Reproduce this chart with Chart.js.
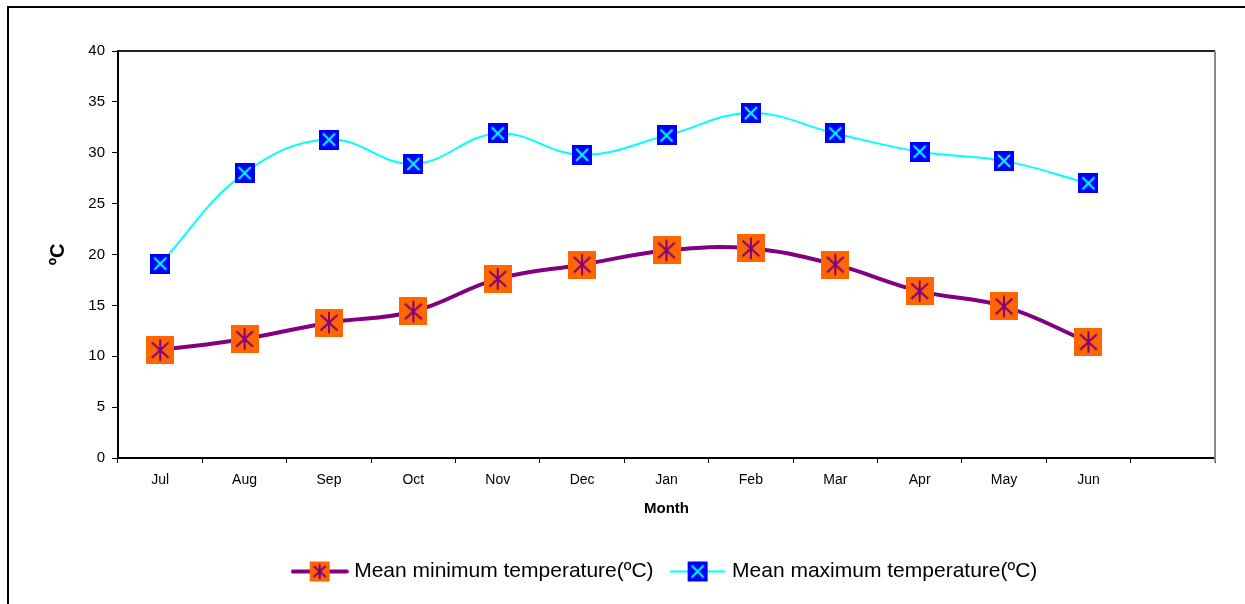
<!DOCTYPE html>
<html lang="en">
<head>
  <meta charset="UTF-8">
  <title>Mean monthly temperature</title>
  <script src="https://cdn.jsdelivr.net/npm/chart.js"></script>
  <style>
    body {
      margin: 0;
      width: 1245px;
      height: 604px;
      overflow: hidden;
      background: #fff;
      font-family: "Liberation Sans", Arial, sans-serif;
    }
    #frame {
      position: absolute;
      left: 7px;
      top: 6px;
      width: 1300px;
      height: 700px;
      border-left: 2px solid #000;
      border-top: 2px solid #000;
    }
    #wrap {
      position: absolute;
      left: 0;
      top: 0;
      width: 1245px;
      height: 604px;
    }
  </style>
</head>
<body>
  <div id="frame"></div>
  <div id="wrap"><canvas id="chart"></canvas></div>

  <script>
    // last slot is empty, like the original sheet
    const months = ['Jul', 'Aug', 'Sep', 'Oct', 'Nov', 'Dec', 'Jan', 'Feb', 'Mar', 'Apr', 'May', 'Jun', ''];
    const minTemp = [10.6, 11.7, 13.3, 14.4, 17.6, 19.0, 20.4, 20.6, 19.0, 16.4, 14.9, 11.4, null];
    const maxTemp = [19.1, 28.0, 31.3, 28.9, 31.9, 29.8, 31.7, 33.9, 31.9, 30.1, 29.2, 27.0, null];
    const yTicks = [0, 5, 10, 15, 20, 25, 30, 35, 40];

    const purple = '#800080';
    const orange = '#FF6600';
    const cyan = '#00FFFF';
    const blue = '#0000FF';

    function minMarker(w, h) {
      const c = document.createElement('canvas');
      c.width = w; c.height = h;
      const g = c.getContext('2d');
      g.fillStyle = orange;
      g.fillRect(0, 0, w, h);
      g.strokeStyle = purple;
      g.lineWidth = 2;
      g.beginPath();
      g.moveTo(w / 2, h * 0.12); g.lineTo(w / 2, h * 0.88);
      g.moveTo(w * 0.2, h * 0.22); g.lineTo(w * 0.8, h * 0.78);
      g.moveTo(w * 0.8, h * 0.22); g.lineTo(w * 0.2, h * 0.78);
      g.stroke();
      return c;
    }

    function maxMarker(w, h) {
      const c = document.createElement('canvas');
      c.width = w; c.height = h;
      const g = c.getContext('2d');
      g.fillStyle = blue;
      g.fillRect(0, 0, w, h);
      g.strokeStyle = cyan;
      g.lineWidth = 2;
      g.beginPath();
      g.moveTo(w * 0.2, h * 0.2); g.lineTo(w * 0.8, h * 0.8);
      g.moveTo(w * 0.8, h * 0.2); g.lineTo(w * 0.2, h * 0.8);
      g.stroke();
      return c;
    }

    function legendIcon(marker, color, lw) {
      const c = document.createElement('canvas');
      c.width = 58; c.height = 22;
      const g = c.getContext('2d');
      g.strokeStyle = color;
      g.lineWidth = lw;
      g.lineCap = 'round';
      g.beginPath();
      g.moveTo(2, 11); g.lineTo(56, 11);
      g.stroke();
      g.drawImage(marker, 19, 1);
      return c;
    }

    const minPoint = minMarker(28, 28);
    const maxPoint = maxMarker(20, 20);
    const minIcon = legendIcon(minMarker(20, 20), purple, 4);
    const maxIcon = legendIcon(maxMarker(20, 20), cyan, 2);

    const plotFrame = {
      id: 'plotFrame',
      beforeDatasetsDraw(chart) {
        const a = chart.chartArea;
        const ctx = chart.ctx;
        ctx.save();
        ctx.lineWidth = 2;
        ctx.strokeStyle = '#222';
        ctx.beginPath();
        ctx.moveTo(a.left, a.top); ctx.lineTo(a.right, a.top);
        ctx.stroke();
        ctx.strokeStyle = '#888';
        ctx.beginPath();
        ctx.moveTo(a.right, a.top); ctx.lineTo(a.right, a.bottom + 4);
        ctx.stroke();
        ctx.restore();
      }
    };

    new Chart(document.getElementById('chart'), {
      type: 'line',
      data: {
        labels: months,
        datasets: [{
          label: 'Mean minimum temperature(\u00BAC)',
          data: minTemp,
          borderColor: purple,
          borderWidth: 4,
          tension: 0.4,
          pointStyle: minPoint,
          pointRadius: 14,
          icon: minIcon
        }, {
          label: 'Mean maximum temperature(\u00BAC)',
          data: maxTemp,
          borderColor: cyan,
          borderWidth: 2,
          tension: 0.4,
          pointStyle: maxPoint,
          pointRadius: 10,
          icon: maxIcon
        }]
      },
      options: {
        responsive: true,
        maintainAspectRatio: false,
        animation: false,
        layout: {
          padding: { left: 0, top: 51, right: 30, bottom: 12 }
        },
        scales: {
          x: {
            offset: true,
            grid: {
              offset: true,
              drawOnChartArea: false,
              drawTicks: true,
              tickLength: 5,
              color: '#000'
            },
            border: { color: '#000', width: 2 },
            ticks: {
              color: '#000',
              padding: 9,
              font: { family: 'Liberation Sans', size: 14 }
            },
            title: {
              display: true,
              text: 'Month',
              color: '#000',
              padding: { top: 0, bottom: 23 },
              font: { family: 'Liberation Sans', size: 15, weight: 'bold' }
            },
            afterFit(scale) { scale.height = 83; }
          },
          y: {
            min: 0,
            max: 40,
            afterBuildTicks(scale) { scale.ticks = yTicks.map(v => ({ value: v })); },
            grid: {
              drawOnChartArea: false,
              drawTicks: true,
              tickLength: 6,
              color: '#000'
            },
            border: { color: '#000', width: 2 },
            ticks: {
              color: '#000',
              padding: 7,
              font: { family: 'Liberation Sans', size: 15 }
            },
            title: {
              display: true,
              text: '\u00BAC',
              color: '#000',
              padding: { top: 46, bottom: 0 },
              font: { family: 'Liberation Sans', size: 20, weight: 'bold' }
            },
            afterFit(scale) { scale.width = 118; }
          }
        },
        plugins: {
          legend: {
            position: 'bottom',
            fullSize: false,
            labels: {
              usePointStyle: true,
              pointStyleWidth: 48,
              padding: 20,
              color: '#000',
              font: { family: 'Liberation Sans', size: 21 },
              generateLabels(chart) {
                return chart.data.datasets.map((ds, i) => ({
                  text: ds.label,
                  pointStyle: ds.icon,
                  fillStyle: 'transparent',
                  strokeStyle: 'transparent',
                  lineWidth: 0,
                  hidden: false,
                  datasetIndex: i,
                  fontColor: '#000'
                }));
              }
            }
          },
          tooltip: { enabled: false }
        }
      },
      plugins: [plotFrame]
    });
  </script>
</body>
</html>
